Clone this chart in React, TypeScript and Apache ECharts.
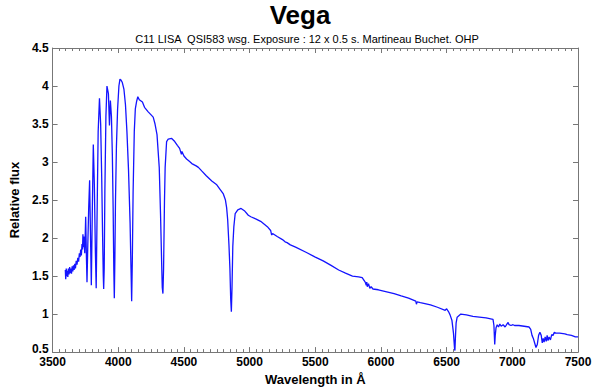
import React, { useEffect, useRef } from "react";
import * as echarts from "echarts";

const wavelengths: number[] = [
  3597, 3600, 3604, 3608, 3612, 3616, 3620, 3625, 3630, 3634, 3639, 3644, 3649, 3654, 3659, 3664, 3669, 3674,
  3680, 3686, 3692, 3698, 3704, 3709, 3714, 3719, 3724, 3728, 3731, 3734, 3738, 3745, 3752, 3757, 3762, 3768,
  3775, 3782, 3788, 3795, 3802, 3810, 3818, 3826, 3832, 3838, 3847, 3857, 3866, 3874, 3881, 3886, 3889, 3893,
  3898, 3906, 3914, 3925, 3933, 3940, 3948, 3955, 3961, 3966, 3970, 3974, 3979, 3986, 3995, 4005, 4013, 4020,
  4030, 4043, 4055, 4066, 4078, 4090, 4097, 4102, 4107, 4113, 4122, 4130, 4140, 4149, 4160, 4184, 4200, 4228,
  4250, 4266, 4280, 4295, 4312, 4322, 4330, 4335, 4340, 4345, 4352, 4357, 4368, 4380, 4407, 4430, 4450, 4467,
  4481, 4485, 4500, 4520, 4541, 4560, 4593, 4610, 4637, 4670, 4712, 4750, 4779, 4800, 4816, 4825, 4833, 4843,
  4850, 4856, 4861, 4866, 4872, 4880, 4890, 4910, 4935, 4960, 4990, 5009, 5050, 5084, 5135, 5160, 5168, 5175,
  5210, 5250, 5270, 5285, 5310, 5350, 5433, 5500, 5560, 5620, 5678, 5730, 5783, 5830, 5857, 5880, 5888, 5892,
  5896, 5905, 5915, 5925, 5939, 5980, 6028, 6100, 6154, 6210, 6265, 6270, 6275, 6300, 6377, 6430, 6489, 6500,
  6515, 6526, 6540, 6552, 6560, 6563, 6567, 6572, 6580, 6608, 6650, 6700, 6749, 6800, 6853, 6860, 6866, 6870,
  6876, 6885, 6895, 6905, 6915, 6930, 6945, 6960, 6968, 6975, 6990, 7005, 7017, 7050, 7090, 7128, 7140, 7150,
  7160, 7170, 7180, 7190, 7200, 7210, 7220, 7228, 7235, 7242, 7250, 7258, 7265, 7272, 7280, 7290, 7300, 7310,
  7320, 7330, 7360, 7400, 7418, 7450, 7480, 7500,
];

const flux: number[] = [
  1.58, 1.46, 1.6, 1.5, 1.57, 1.49, 1.6, 1.52, 1.62, 1.54, 1.6, 1.53, 1.63, 1.56, 1.64, 1.58, 1.66, 1.6,
  1.7, 1.65, 1.74, 1.69, 1.8, 1.75, 1.85, 1.77, 1.92, 1.85, 2.05, 1.88, 2.02, 1.8, 2.28, 1.8, 1.42, 1.9,
  2.4, 2.76, 2.1, 1.38, 2.3, 3.23, 2.7, 1.8, 1.34, 2.2, 3.4, 3.84, 3.5, 2.8, 2.0, 1.5, 1.33, 1.6,
  2.6, 3.6, 4.0, 3.9, 3.48, 3.81, 3.6, 3.1, 2.4, 1.6, 1.21, 1.7, 2.5, 3.2, 3.7, 4.0, 4.09, 4.08,
  4.05, 3.96, 3.75, 3.4, 2.9, 2.2, 1.6, 1.17, 1.7, 2.6, 3.4, 3.7, 3.8, 3.86, 3.82, 3.79, 3.72, 3.66,
  3.62, 3.59, 3.5, 3.36, 2.93, 2.3, 1.7, 1.35, 1.27, 1.6, 2.5, 2.93, 3.27, 3.3, 3.31, 3.27, 3.22, 3.18,
  3.1, 3.14, 3.08, 3.04, 3.01, 2.98, 2.95, 2.93, 2.88, 2.82, 2.75, 2.7, 2.63, 2.58, 2.5, 2.4, 2.24, 1.9,
  1.6, 1.2, 1.03, 1.35, 1.89, 2.15, 2.32, 2.37, 2.39, 2.36, 2.3, 2.28, 2.25, 2.22, 2.15, 2.1, 2.04, 2.06,
  2.02, 1.98, 1.95, 1.94, 1.91, 1.88, 1.81, 1.75, 1.7, 1.64, 1.58, 1.54, 1.5, 1.49, 1.48, 1.42, 1.38, 1.42,
  1.36, 1.4, 1.34, 1.36, 1.33, 1.32, 1.3, 1.27, 1.24, 1.21, 1.17, 1.13, 1.16, 1.15, 1.12, 1.09, 1.05, 1.07,
  1.03, 0.99, 0.92, 0.75, 0.55, 0.52, 0.7, 0.88, 0.96, 1.0, 0.99, 0.97, 0.96, 0.95, 0.93, 0.85, 0.6, 0.72,
  0.82, 0.86, 0.83, 0.87, 0.84, 0.86, 0.83, 0.87, 0.89, 0.86, 0.85, 0.86, 0.85, 0.85, 0.84, 0.83, 0.8, 0.72,
  0.68, 0.62, 0.56, 0.6, 0.72, 0.76, 0.72, 0.62, 0.68, 0.63, 0.7, 0.64, 0.72, 0.65, 0.7, 0.66, 0.73, 0.72,
  0.76, 0.75, 0.75, 0.74, 0.73, 0.72, 0.7, 0.7,
];

const xMin = 3500;
const xMax = 7500;
const xInterval = 500;
const yMin = 0.5;
const yMax = 4.5;
const yInterval = 0.5;

const titleText = "Vega";
const subtitleText = "C11 LISA  QSI583 wsg. Exposure : 12 x 0.5 s. Martineau Buchet. OHP";
const xName = "Wavelength in Å";
const yName = "Relative flux";

export default function App() {
  const ref = useRef<HTMLDivElement>(null);
  useEffect(() => {
    if (!ref.current) return;
    const chart = echarts.init(ref.current, undefined, { renderer: "svg" });
    const font = "Liberation Sans, Arial, Helvetica, sans-serif";
    const axisColor = "#777777";
    const baseX = {
      type: "value" as const,
      min: xMin,
      max: xMax,
      interval: xInterval,
      splitLine: { show: false },
      axisLine: { show: true, lineStyle: { color: axisColor, width: 1 } },
      axisTick: { show: true, inside: true, length: 5, lineStyle: { color: axisColor } },
      minorTick: { show: true, splitNumber: 10, length: 3, lineStyle: { color: axisColor } },
    };
    const baseY = {
      type: "value" as const,
      min: yMin,
      max: yMax,
      interval: yInterval,
      splitLine: { show: false },
      axisLine: { show: true, lineStyle: { color: axisColor, width: 1 } },
      axisTick: { show: true, inside: true, length: 5, lineStyle: { color: axisColor } },
    };
    chart.setOption({
      animation: false,
      backgroundColor: "#ffffff",
      title: [
        {
          text: titleText,
          left: "center",
          top: -3,
          textStyle: { fontFamily: font, fontSize: 26, fontWeight: "bold", color: "#000" },
        },
        {
          text: subtitleText,
          left: 302,
          textAlign: "center",
          top: 28,
          textStyle: { fontFamily: font, fontSize: 11, fontWeight: "normal", color: "#000" },
        },
      ],
      grid: { left: 40, right: 22, top: 48, bottom: 33, containLabel: false },
      xAxis: [
        {
          ...baseX,
          position: "bottom",
          name: xName,
          nameLocation: "middle",
          nameGap: 17,
          nameTextStyle: { fontFamily: font, fontSize: 13, fontWeight: "bold", color: "#000" },
          axisLabel: {
            show: true,
            margin: 4,
            fontFamily: font,
            fontSize: 12,
            fontWeight: "bold",
            color: "#000",
            formatter: (v: number) => String(v),
          },
        },
        {
          ...baseX,
          position: "top",
          axisLabel: { show: false },
        },
      ],
      yAxis: [
        {
          ...baseY,
          position: "left",
          name: yName,
          nameLocation: "middle",
          nameGap: 22,
          nameTextStyle: { fontFamily: font, fontSize: 13, fontWeight: "bold", color: "#000" },
          axisLabel: {
            show: true,
            margin: 4,
            fontFamily: font,
            fontSize: 12,
            fontWeight: "bold",
            color: "#000",
            formatter: (v: number) => (v === yMin ? "{lo|" + String(v) + "}" : String(v)),
            rich: {
              lo: { fontFamily: font, fontSize: 12, fontWeight: "bold", color: "#000", padding: [0, 0, 6, 0] },
            },
          },
        },
        {
          ...baseY,
          position: "right",
          axisLabel: { show: false },
        },
      ],
      series: [
        {
          type: "line",
          xAxisIndex: 0,
          yAxisIndex: 0,
          data: wavelengths.map((w, i) => [w, flux[i]]),
          showSymbol: false,
          symbol: "none",
          lineStyle: { color: "#1414ff", width: 1.3 },
          itemStyle: { color: "#1414ff" },
        },
      ],
    });
    return () => chart.dispose();
  }, []);
  return (
    <div
      ref={ref}
      style={{ position: "fixed", left: 0, top: 0, width: 600, height: 391, background: "#fff" }}
    />
  );
}
